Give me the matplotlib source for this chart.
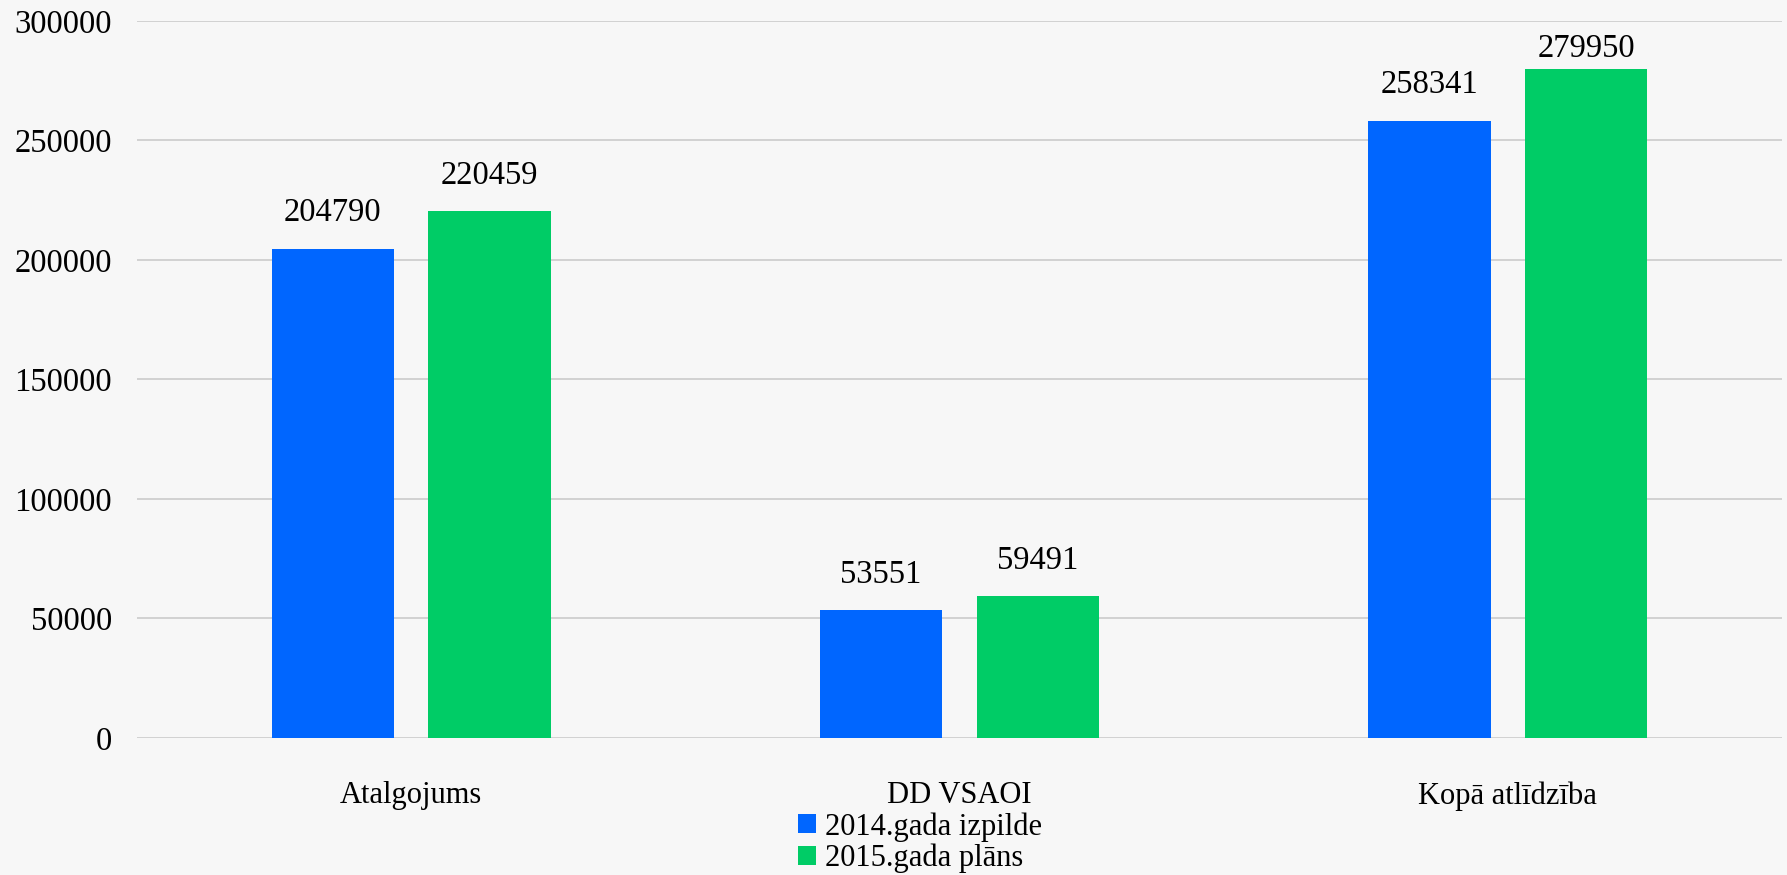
import numpy as np
import matplotlib.pyplot as plt
from matplotlib.patches import Patch

categories = ['Atalgojums', 'DD VSAOI', 'Kopā atlīdzība']
izpilde_2014 = [204790, 53551, 258341]
plans_2015 = [220459, 59491, 279950]
series_names = ['2014.gada izpilde', '2015.gada plāns']
yticks = [0, 50000, 100000, 150000, 200000, 250000, 300000]

plt.rcParams['font.family'] = ['Liberation Serif', 'DejaVu Serif']

blue = '#0066ff'
green = '#00cc66'
bg = '#f7f7f7'

fig = plt.figure(figsize=(17.87, 8.75), dpi=100, facecolor=bg)
ax = fig.add_axes([0.0767, 0.1566, 0.9205, 0.8194])
ax.set_facecolor(bg)

x = np.arange(len(categories))
w = 0.223
off = 0.143
b1 = ax.bar(x - off, izpilde_2014, w, color=blue, zorder=3)
b2 = ax.bar(x + off, plans_2015, w, color=green, zorder=3)

ymax = 300000
# points per data unit, so a label near the top gets pushed down to fit
pts_per_unit = ax.get_position().height * fig.get_figheight() * 72 / ymax
for bars, vals in ((b1, izpilde_2014), (b2, plans_2015)):
    for r, v in zip(bars, vals):
        headroom = (ymax - v) * pts_per_unit
        dy = min(19.5, headroom - 26)
        ax.annotate(str(v), (r.get_x() + r.get_width() / 2, v),
                    xytext=(0, dy), textcoords='offset points',
                    ha='center', va='baseline', fontsize=23.5)

ax.set_xlim(-0.5, 2.5)
ax.set_ylim(0, ymax)
ax.set_yticks(yticks)
ax.set_yticklabels([str(t) for t in yticks])
ax.set_xticks(x)
ax.set_xticklabels(categories)
ax.tick_params(axis='y', length=0, pad=18, labelsize=23.5)
ax.tick_params(axis='x', length=0, pad=31, labelsize=22)
ax.grid(axis='y', color='#cfcfcf', linewidth=1.3, zorder=0)
for s in ax.spines.values():
    s.set_visible(False)

handles = [Patch(facecolor=blue), Patch(facecolor=green)]
fig.legend(handles, series_names, loc='upper left',
           bbox_to_anchor=(0.4465, 0.072), frameon=False, fontsize=22,
           handlelength=0.6, handleheight=0.6, handletextpad=0.3,
           labelspacing=0.08, borderpad=0, borderaxespad=0)

fig.savefig('out.png', dpi=100, facecolor=bg)
